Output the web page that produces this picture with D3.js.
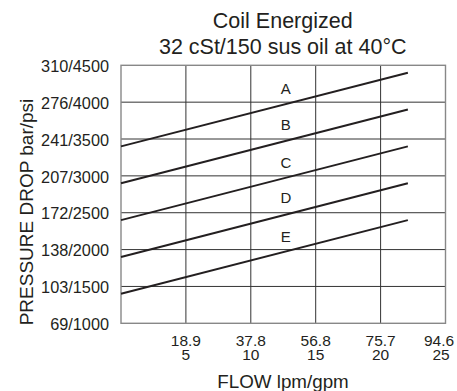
<!DOCTYPE html>
<html>
<head>
<meta charset="utf-8">
<script src="https://cdn.jsdelivr.net/npm/d3@7"></script>
<style>
  html, body { margin: 0; padding: 0; background: #fff; }
  text { font-family: "Liberation Sans", Arial, Helvetica, sans-serif; fill: #231f20; }
</style>
</head>
<body>
<svg id="chart" width="457" height="391"></svg>
<script>
// ---- data ----
const titleLines = ["Coil Energized", "32 cSt/150 sus oil at 40°C"];
const xTickGpm = [5, 10, 15, 20, 25];
const xTickLpm = ["18.9", "37.8", "56.8", "75.7", "94.6"];
const yTickPsi = [1000, 1500, 2000, 2500, 3000, 3500, 4000, 4500];
const yTickBar = ["69", "103", "138", "172", "207", "241", "276", "310"];
const seriesNames = ["A", "B", "C", "D", "E"];
// each curve: [flow gpm, pressure psi] at start and end
const curveStartGpm = [0, 0, 0, 0, 0];
const curveEndGpm = [22.1, 22.1, 22.1, 22.1, 22.1];
const curveStartPsi = [3400, 2900, 2400, 1900, 1400];
const curveEndPsi = [4400, 3900, 3400, 2900, 2400];
const labelGpm = [12.7, 12.7, 12.7, 12.7, 12.7];
const labelPsi = [4190, 3690, 3180, 2700, 2180];
const xTitle = "FLOW lpm/gpm";
const yTitle = "PRESSURE DROP bar/psi";

// ---- layout ----
const svg = d3.select("#chart");
const x = d3.scaleLinear().domain([0, 25]).range([121, 445.5]);
const y = d3.scaleLinear().domain([1000, 4500]).range([323.3, 65.3]);

// grid
const grid = svg.append("g");
grid.selectAll("line.v").data(xTickGpm.slice(0, 4)).enter().append("line")
  .attr("x1", d => x(d)).attr("x2", d => x(d))
  .attr("y1", y(4500)).attr("y2", y(1000))
  .attr("stroke", "#333").attr("stroke-width", 1);
grid.selectAll("line.h").data(yTickPsi.slice(1, 7)).enter().append("line")
  .attr("x1", x(0)).attr("x2", x(25))
  .attr("y1", d => y(d)).attr("y2", d => y(d))
  .attr("stroke", "#333").attr("stroke-width", 1);
// frame
grid.append("rect")
  .attr("x", x(0)).attr("y", y(4500))
  .attr("width", x(25) - x(0)).attr("height", y(1000) - y(4500))
  .attr("fill", "none").attr("stroke", "#888").attr("stroke-width", 1.4);

// curves
const line = d3.line().x(d => x(d[0])).y(d => y(d[1]));
const curves = seriesNames.map((n, i) => [[curveStartGpm[i], curveStartPsi[i]], [curveEndGpm[i], curveEndPsi[i]]]);
svg.append("g").selectAll("path").data(curves).enter().append("path")
  .attr("d", line).attr("fill", "none").attr("stroke", "#231f20").attr("stroke-width", 2);

// curve labels
svg.append("g").selectAll("text").data(seriesNames).enter().append("text")
  .attr("x", (d, i) => x(labelGpm[i])).attr("y", (d, i) => y(labelPsi[i]))
  .attr("text-anchor", "middle").attr("dy", "0.36em")
  .attr("font-size", 15).text(d => d);

// y axis tick labels
const yAxis = d3.axisLeft(y).tickValues(yTickPsi).tickSize(0).tickPadding(12)
  .tickFormat((d, i) => yTickBar[i] + "/" + d);
const gy = svg.append("g").attr("transform", `translate(${x(0)},0)`).call(yAxis);
gy.select(".domain").remove();
gy.selectAll("text").attr("font-size", 16.3).attr("font-family", null).attr("fill", "#231f20").attr("dy", "0.38em");

// x axis tick labels (two lines)
const xAxis = d3.axisBottom(x).tickValues(xTickGpm).tickSize(0).tickFormat("");
const gx = svg.append("g").attr("transform", `translate(0,${y(1000)})`).call(xAxis);
gx.select(".domain").remove();
gx.selectAll(".tick").each(function(d, i) {
  const last = i === xTickGpm.length - 1;
  const t = d3.select(this).append("text").attr("text-anchor", "middle")
    .attr("font-size", 15.5).attr("fill", "#231f20");
  t.append("tspan").attr("x", last ? -7 : -0.5).attr("y", 22.5).text(xTickLpm[i]);
  t.append("tspan").attr("x", last ? -5 : -0.5).attr("y", 36.5).text(d);
});

// titles
svg.append("g").selectAll("text").data(titleLines).enter().append("text")
  .attr("x", (x(0) + x(25)) / 2 - 0.5).attr("y", (d, i) => 28 + i * 25.5)
  .attr("text-anchor", "middle").attr("font-size", 21.5).text(d => d);

svg.append("text").attr("x", 283).attr("y", 387.5)
  .attr("text-anchor", "middle").attr("font-size", 18.8).text(xTitle);

svg.append("text").attr("transform", "translate(32.5,212) rotate(-90)")
  .attr("text-anchor", "middle").attr("font-size", 19).text(yTitle);
</script>
</body>
</html>
